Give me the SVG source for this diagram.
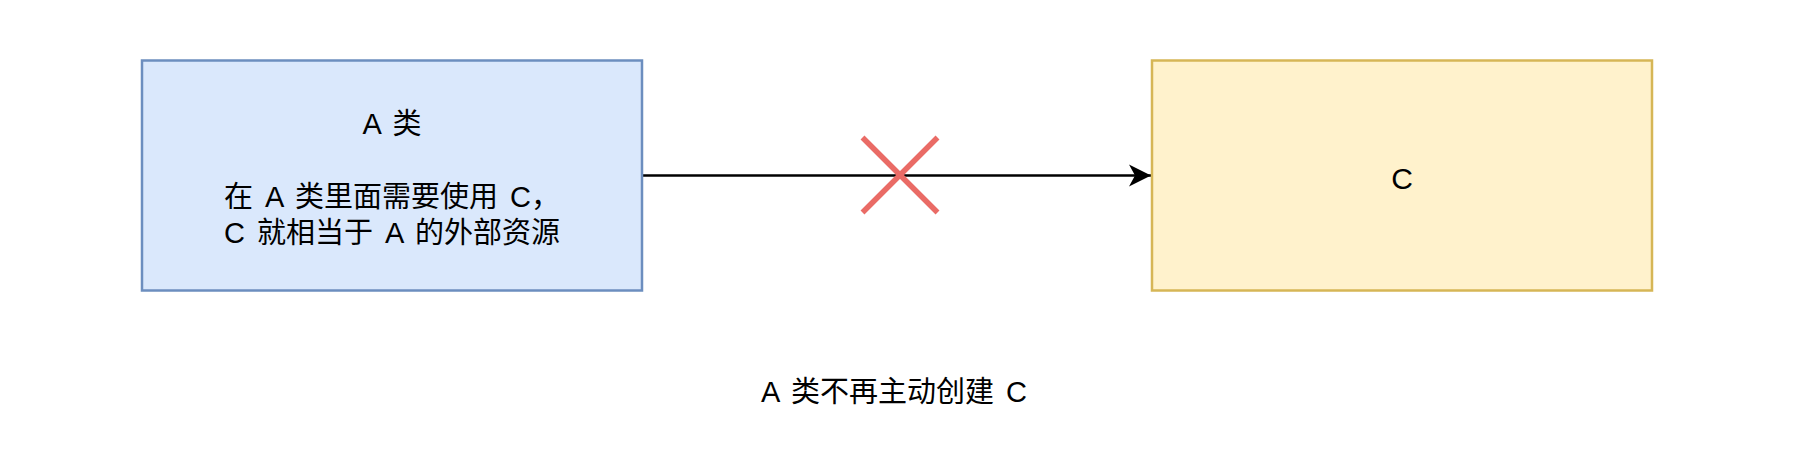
<svg xmlns="http://www.w3.org/2000/svg" width="1802" height="458" viewBox="0 0 1802 458">
<defs>
<style>
.t{font-family:"Liberation Sans","Noto Sans CJK SC",sans-serif;font-size:29px;word-spacing:4px;fill:#000;text-anchor:middle}
.c{font-size:30px}
</style>
<marker id="arr" markerUnits="userSpaceOnUse" markerWidth="24" markerHeight="24" viewBox="0 0 24 24" refX="22" refY="12" orient="auto">
<path d="M0,1 L22,12 L0,23 L6,12 Z" fill="#000"/>
</marker>
</defs>
<rect width="1802" height="458" fill="#fff"/>
<g id="connectors">
<line x1="642" y1="175.5" x2="1151" y2="175.5" stroke="#000" stroke-width="2.5" marker-end="url(#arr)"/>
</g>
<g id="nodeA">
<rect x="142" y="60.5" width="500" height="230" fill="#dae8fc" stroke="#6c8ebf" stroke-width="2.5"/>
<text class="t" x="392" y="134">A 类</text>
<text class="t" x="392" y="206.7">在 A 类里面需要使用 C，</text>
<text class="t" x="392" y="243">C 就相当于 A 的外部资源</text>
</g>
<g id="nodeC">
<rect x="1152" y="60.5" width="500" height="230" fill="#fff2cc" stroke="#d6b656" stroke-width="2.5"/>
<text class="t c" x="1402" y="189">C</text>
</g>
<g id="cross">
<line x1="862.5" y1="137.5" x2="937.5" y2="212.5" stroke="#ea6b66" stroke-width="5.5"/>
<line x1="937.5" y1="137.5" x2="862.5" y2="212.5" stroke="#ea6b66" stroke-width="5.5"/>
</g>
<g id="label">
<text class="t" x="894" y="402">A 类不再主动创建 C</text>
</g>
</svg>
